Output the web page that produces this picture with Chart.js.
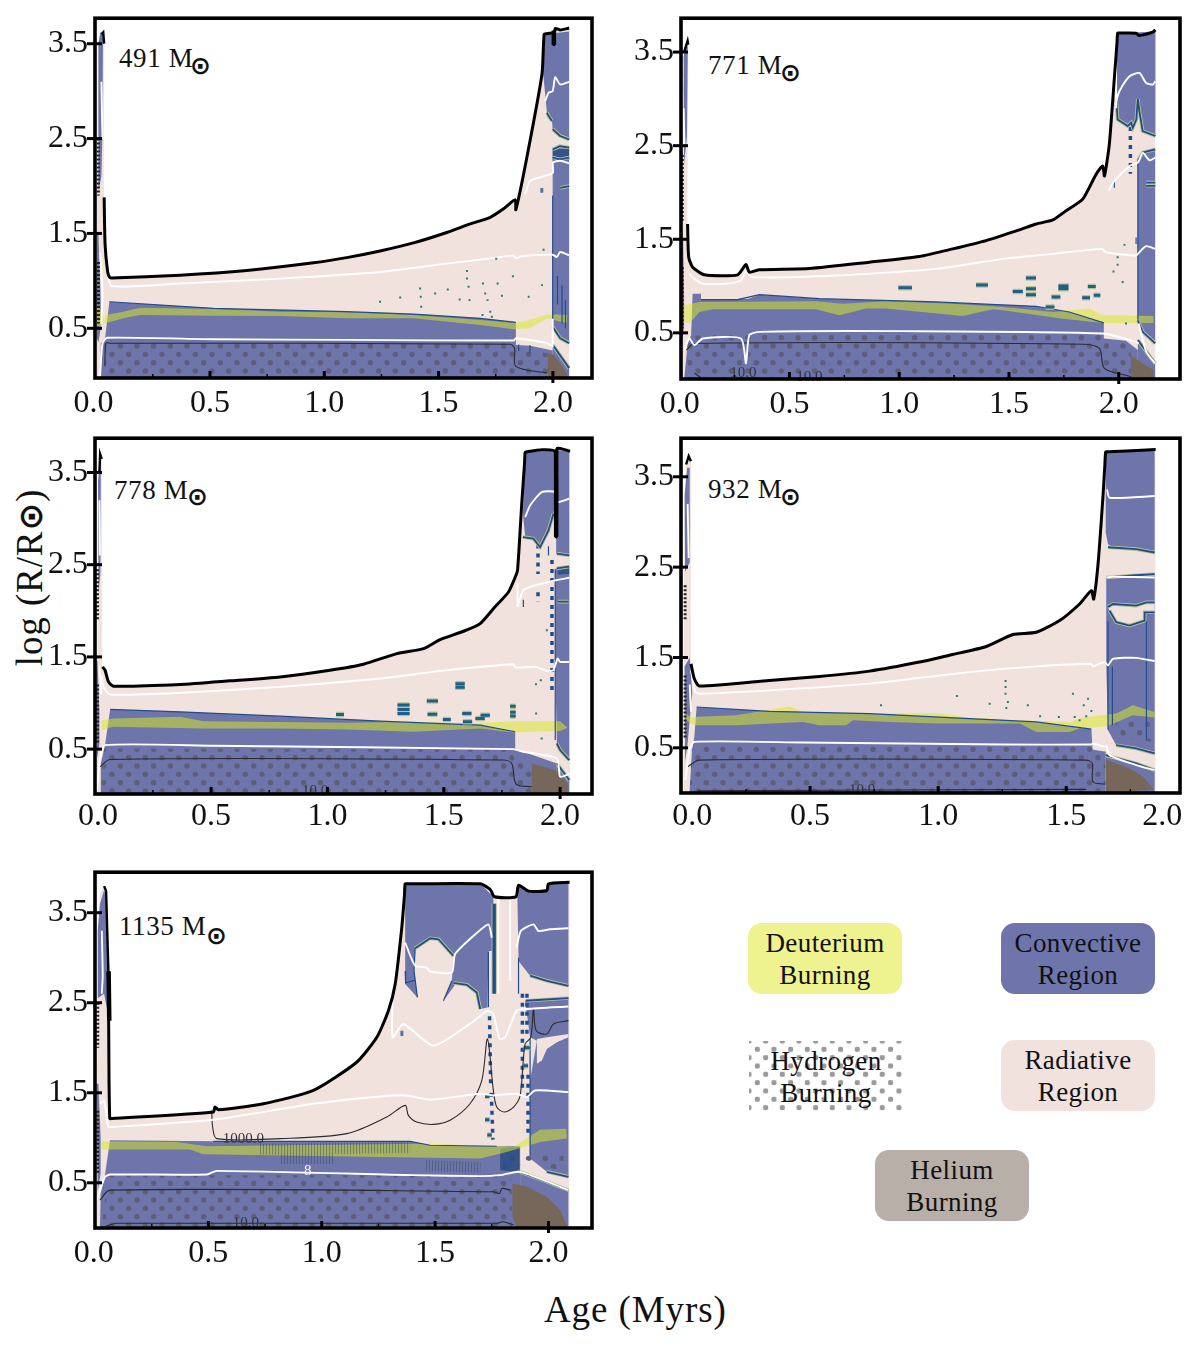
<!DOCTYPE html>
<html lang="en">
<head>
<meta charset="UTF-8">
<title>Stellar structure panels</title>
<script src="https://cdn.jsdelivr.net/npm/chart.js"></script>
<style>
  html, body { margin: 0; padding: 0; background: #fff; }
  body { position: relative; width: 1200px; height: 1347px; overflow: hidden; font-family: "Liberation Serif", serif; color: #111; }
  canvas { position: absolute; }
  .mass { position: absolute; font-size: 27px; letter-spacing: 0.6px; line-height: 30px; white-space: nowrap; }
  .sun { position: absolute; font-family: "DejaVu Sans", sans-serif; font-weight: bold; font-size: 25px; line-height: 25px; }
  .key { position: absolute; width: 154px; height: 71px; border-radius: 14px; text-align: center; font-size: 27px; line-height: 32px; letter-spacing: 0.4px; padding-top: 4px; box-sizing: border-box; }
  .title { position: absolute; font-size: 37px; white-space: nowrap; letter-spacing: 0.9px; }
</style>
</head>
<body>
<div class="mass" style="left:119px;top:43px">491 M</div><div class="sun" style="left:190px;top:53px">&#8857;</div>
<div class="mass" style="left:708px;top:50px">771 M</div><div class="sun" style="left:780px;top:60px">&#8857;</div>
<div class="mass" style="left:114px;top:475px">778 M</div><div class="sun" style="left:187px;top:484px">&#8857;</div>
<div class="mass" style="left:708px;top:474px">932 M</div><div class="sun" style="left:780px;top:484px">&#8857;</div>
<div class="mass" style="left:119px;top:911px">1135 M</div><div class="sun" style="left:206px;top:923px">&#8857;</div>

<div class="key" style="left:748px;top:923px;background:#eef28f">Deuterium<br>Burning</div>
<div class="key" style="left:1001px;top:923px;background:#6d75ab">Convective<br>Region</div>
<div class="key" style="left:749px;top:1041px;border-radius:0;background-image:radial-gradient(circle,#9a9a9a 2.6px,transparent 3px),radial-gradient(circle,#9a9a9a 2.6px,transparent 3px);background-size:16.67px 16.67px;background-position:0 0,8.33px 8.33px">Hydrogen<br>Burning</div>
<div class="key" style="left:1001px;top:1040px;background:#f2e2dd">Radiative<br>Region</div>
<div class="key" style="left:875px;top:1150px;background:#b8afa9">Helium<br>Burning</div>

<div class="title" style="left:544px;top:1288px">Age (Myrs)</div>
<div class="title" style="left:-61px;top:556px;transform:rotate(-90deg);width:180px;text-align:center">log (R/R<span style="font-family:'DejaVu Sans';font-weight:bold;font-size:33px">&#8857;</span>)</div>

<script>
// ---- 491 Msun
const p1Spike = [[.002,-.02],[.005,1.0],[.008,2.6],[.012,3.45],[.025,3.6],[.033,3.62],[.037,3.5]];
const p1Surface = [[.037,1.88],[.041,1.39],[.052,1.1],[.06,1.04],[.07,1.03],[.369,1.06],[.661,1.11],[.953,1.19],[1.098,1.245],[1.244,1.315],[1.39,1.40],[1.536,1.51],[1.638,1.60],[1.726,1.67],[1.784,1.76],[1.835,1.855],[1.838,1.75],[1.886,2.30],[1.952,3.175],[1.959,3.5],[1.962,3.60],[1.97,3.605],[2.003,3.61],[2.004,3.49],[2.01,3.66],[2.032,3.645],[2.071,3.665]];
const p1Conv = [
  [[.019,-.024],[.022,.343],[.041,.395],[.06,.78],[.515,.71],[1.098,.675],[1.39,.65],[1.682,.605],[1.838,.563],[1.838,.325],[1.901,.315],[1.999,.266],[1.999,-.024]],
  [[1.962,3.6],[2.071,3.63],[2.071,2.493],[2.032,2.528],[1.999,2.598],[1.996,2.685],[1.974,2.773],[1.966,2.965],[1.958,3.175]],
  [[1.999,2.388],[2.032,2.423],[2.071,2.406],[2.071,.343],[2.032,.395],[1.999,.517]],
  [[1.999,.325],[2.071,.08],[2.071,-.024],[1.999,-.024]],
  [[.012,3.5],[.02,3.62],[.032,3.6],[.03,2.6],[.025,2.1],[.012,1.95]],
  [[.004,1.5],[.012,1.5],[.022,.8],[.022,.5],[.012,.35],[.004,.4]]
];
const p1Holes = [];
const p1Hburn = [[[.041,-.024],[.036,.371],[1.838,.371],[1.842,.29],[1.978,.238],[1.978,-.024]]];
const p1Heburn = [[1.978,.238],[2.003,.22],[2.047,.08],[2.069,-.024],[1.978,-.01]];
const p1Deut = [
  [[.041,.64],[.121,.675],[.194,.717],[.515,.703],[.807,.675],[1.098,.668],[1.39,.64],[1.682,.587],[1.828,.559],[1.886,.58],[1.974,.647],[2.061,.64],[2.061,.552],[1.974,.605],[1.901,.5],[1.828,.49],[1.682,.535],[1.39,.605],[1.098,.605],[.807,.63],[.515,.633],[.194,.64],[.121,.605],[.041,.552]],
  [[0,.762],[.022,.692],[.041,.57],[.019,.517],[0,.535]]
];
const p1Dark = [[[1.999,2.38],[2.071,2.4],[2.071,2.28],[1.999,2.27]],[[1.945,1.98],[1.958,1.98],[1.958,1.93],[1.945,1.93]]];
const p1White = [
  [[.051,1.077],[.07,.944],[.369,.972],[.807,1.024],[1.244,1.094],[1.536,1.182],[1.755,1.245],[1.828,1.269],[1.838,1.234],[1.857,1.259],[1.999,1.276],[2.017,1.252],[2.032,1.304],[2.071,1.269]],
  [[.019,-.01],[.03,.343],[.05,.4],[.515,.385],[1.098,.378],[1.828,.371],[1.838,.395],[1.974,.343],[1.999,.31]],
  [[1.879,1.916],[1.901,2.056],[1.999,2.136],[2.0,2.248],[2.032,2.266],[2.071,2.238]],
  [[1.966,2.895],[1.981,2.983],[1.999,3.0],[2.01,3.147],[2.032,3.07],[2.071,3.098]],
  [[1.999,.3],[1.999,.6]],
  [[.025,3.1],[.028,2.7],[.03,2.5]],
  [[.02,1.3],[.03,.9],[.025,.55]]
];
const p1Thin = [[[.04,.1],[.045,.343],[.063,.343],[1.813,.332],[1.832,.29],[1.838,.098],[1.974,.028]]];
const p1Edges = [
  [[1.999,2.6],[2.03,2.53],[2.071,2.49]],[[1.999,2.385],[2.03,2.42],[2.071,2.405]],[[1.999,2.3],[2.03,2.28],[2.071,2.3]],
  [[1.974,2.773],[1.981,2.74],[1.996,2.685]],[[1.999,.517],[2.032,.395],[2.071,.343]],[[1.999,.325],[2.071,.08]],
  [[2.032,1.98],[2.071,2.0]]
];
const p1Veins = [[[.06,.78],[.515,.71],[1.098,.675],[1.39,.65],[1.682,.605],[1.838,.563]],[[1.999,1.9],[1.999,.55]],[[2.02,1.05],[2.02,.75]],[[2.04,.95],[2.04,.55]],[[2.055,.8],[2.055,.5]],[[1.85,.33],[1.85,.26]],[[1.9,.32],[1.9,.24]]];
const p1Fuzz = [];
const p1Mottle = [];
const p1Thick = [[[2.004,3.64],[2.004,3.49]]];
const p1Islands = [];
const p1Dots = [[1.244,.78],[1.332,.825],[1.419,.92],[1.422,.832],[1.424,.727],[1.485,.867],[1.54,.909],[1.592,.804],[1.624,1.105],[1.624,1.024],[1.631,.937],[1.635,.797],[1.694,.972],[1.704,.867],[1.714,.797],[1.758,.972],[1.777,.843],[1.726,.675],[1.692,.64],[1.733,.622],[1.752,1.234],[1.825,1.049],[1.952,.955],[1.894,.832],[1.959,1.329]];
const p1Hatch = [[[.012,2.5],[.012,1.9]],[[.012,1.2],[.012,.55]]];
const p1Notes = [];

// ---- 771 Msun
const p2Spike = [[.008,.014],[.014,2.87],[.021,3.507],[.036,3.62],[.039,3.578]];
const p2Surface = [[.036,1.663],[.041,1.309],[.059,1.202],[.112,1.12],[.264,1.12],[.302,1.23],[.317,1.149],[.363,1.174],[.591,1.188],[.864,1.255],[1.092,1.316],[1.244,1.397],[1.396,1.486],[1.547,1.6],[1.623,1.663],[1.70,1.706],[1.76,1.805],[1.836,1.929],[1.897,2.195],[1.927,2.284],[1.935,2.177],[1.957,2.514],[1.98,3.223],[1.992,3.6],[1.995,3.702],[2.003,3.703],[2.079,3.702],[2.091,3.677],[2.155,3.713],[2.167,3.738]];
const p2Conv = [
  [[.021,.014],[.036,.387],[.052,.475],[.059,.918],[.097,.918],[.097,.855],[.264,.855],[.272,.865],[.312,.865],[.363,.908],[.636,.865],[1.168,.83],[1.623,.784],[1.775,.723],[1.932,.606],[1.932,.44],[2.033,.415],[2.087,.316],[2.087,.014]],
  [[1.995,3.702],[2.167,3.72],[2.167,2.603],[2.109,2.656],[2.094,2.869],[2.087,3.0],[2.08,2.78],[2.064,2.691],[2.056,2.745],[2.041,2.709],[1.995,2.78],[1.988,3.011]],
  [[2.087,2.337],[2.109,2.426],[2.166,2.461],[2.166,.387],[2.109,.511],[2.087,.635]],
  [[2.087,.422],[2.166,.174],[2.166,.014],[2.087,.014]],
  [[.018,3.45],[.03,3.6],[.037,3.55],[.033,2.6],[.02,2.3]],
  [[.008,1.6],[.016,1.5],[.02,.9],[.02,.55],[.01,.4]]
];
const p2Holes = [[[2.125,2.106],[2.166,2.106],[2.166,2.071],[2.125,2.071]]];
const p2Hburn = [[[.036,.014],[.036,.387],[.059,.475],[1.932,.5],[1.935,.422],[2.049,.404],[2.056,.245],[2.056,.014]]];
const p2Heburn = [[2.056,.255],[2.109,.174],[2.158,.103],[2.158,.014],[2.056,.014]];
const p2Deut = [[[.021,.794],[.09,.83],[.621,.837],[.743,.812],[.94,.837],[1.244,.812],[1.472,.777],[1.699,.723],[1.866,.759],[1.927,.688],[2.158,.681],[2.158,.606],[1.927,.606],[1.745,.652],[1.472,.741],[1.426,.752],[1.289,.681],[.94,.759],[.849,.759],[.727,.688],[.621,.752],[.15,.752],[.09,.723],[.044,.599],[.021,.617]]];
const p2Dark = [];
const p2White = [
  [[.044,1.131],[.067,1.078],[.105,1.025],[.211,1.025],[.279,1.06],[.302,1.167],[.325,1.096],[.712,1.113],[1.168,1.184],[1.472,1.291],[1.699,1.344],[1.927,1.397],[1.938,1.362],[2.079,1.326],[2.094,1.362],[2.125,1.426],[2.166,1.397]],
  [[.021,.316],[.044,.44],[.067,.369],[.105,.44],[.279,.44],[.302,.174],[.317,.475],[.363,.511],[1.016,.518],[1.927,.493],[2.079,.404],[2.091,.387]],
  [[2.091,.6],[2.125,.3],[2.166,.174]],
  [[1.954,2.018],[1.98,2.124],[2.049,2.284],[2.087,2.319],[2.109,2.426],[2.14,2.344],[2.166,2.372]],
  [[1.988,2.975],[2.003,3.082],[2.049,3.241],[2.094,3.277],[2.125,3.17],[2.155,3.152],[2.166,3.188]],
  [[.018,2.9],[.022,2.5]],
  [[1.988,3.4],[1.988,2.9]]
];
const p2Thin = [[[.03,.316],[.067,.387],[1.836,.379],[1.912,.333],[1.935,.12],[2.056,.032]],[[.067,.07],[.098,.02]]];
const p2Edges = [
  [[1.988,3.011],[1.995,2.78],[2.041,2.709],[2.056,2.745],[2.064,2.691],[2.08,2.78],[2.087,3.0],[2.094,2.869],[2.109,2.656],[2.167,2.603]],
  [[2.087,2.337],[2.109,2.426],[2.166,2.461]],
  [[2.087,.635],[2.109,.511],[2.166,.387]],[[2.087,.422],[2.166,.174]],
  [[2.125,2.106],[2.166,2.106]],[[2.125,2.071],[2.166,2.071]]
];
const p2Veins = [[[.097,.855],[.264,.855],[.363,.908],[.636,.865],[1.168,.83],[1.623,.784],[1.775,.723],[1.932,.606]],[[2.087,2.33],[2.087,.64]],[[1.98,2.13],[1.98,2.05]],[[2.079,1.52],[2.079,1.45]]];
const p2Fuzz = [];
const p2Mottle = [[[2.053,2.7],[2.053,2.2]]];
const p2Thick = [];
const p2Islands = [[.996,1.058,.982],[1.35,1.404,1.011],[1.577,1.623,1.085],[1.577,1.623,.972],[1.577,1.623,.908],[1.517,1.563,.943],[1.725,1.771,1.0],[1.725,1.771,.97],[1.694,1.734,.883],[1.859,1.895,.996],[1.886,1.916,.901],[1.833,1.869,.876],[1.667,1.707,.777]];
const p2Dots = [[1.995,1.309],[2.026,1.44],[1.995,1.227],[1.976,1.156],[2.018,1.043],[2.033,.599]];
const p2Hatch = [[[.012,2.4],[.012,1.7]],[[.012,1.2],[.012,.55]]];
const p2Notes = [[.29,.074,"10.0"],[.591,.032,"10.0"]];

// ---- 778 Msun
const p3Spike = [[.009,.02],[.016,2.87],[.02,3.5],[.023,3.70],[.03,3.648]];
const p3Surface = [[.033,1.392],[.044,1.356],[.059,1.229],[.08,1.182],[.367,1.2],[.582,1.24],[.797,1.283],[1.011,1.356],[1.155,1.421],[1.298,1.536],[1.413,1.59],[1.484,1.688],[1.585,1.778],[1.656,1.861],[1.713,2.023],[1.778,2.204],[1.807,2.366],[1.817,2.439],[1.835,3.161],[1.847,3.6],[1.85,3.72],[1.86,3.725],[1.914,3.745],[1.979,3.727],[1.983,2.8],[1.986,3.756],[2.043,3.731]];
const p3Conv = [
  [[.023,.02],[.026,.345],[.044,.543],[.066,.93],[.367,.904],[.797,.857],[1.226,.803],[1.656,.76],[1.807,.688],[1.807,.496],[1.842,.471],[1.986,.345],[1.986,.02]],
  [[1.85,3.72],[1.983,3.738],[1.983,3.233],[1.971,3.052],[1.95,2.872],[1.914,2.691],[1.885,2.782],[1.85,2.8],[1.84,3.052]],
  [[1.983,3.738],[2.039,3.738],[2.039,2.601],[2.0,2.612],[1.983,2.619]],
  [[1.979,2.457],[2.039,2.475],[2.039,.381],[2.0,.489],[1.986,.561],[1.979,1.428]],
  [[1.986,.345],[2.039,.164],[2.039,.02],[1.986,.02]],
  [[.014,3.4],[.02,3.6],[.026,3.55],[.024,2.4],[.016,2.2]],
  [[.004,1.5],[.012,1.45],[.02,.9],[.02,.55],[.01,.4]]
];
const p3Holes = [];
const p3Hburn = [[[.026,.02],[.04,.507],[1.785,.496],[1.807,.381],[1.878,.345],[1.878,.02]]];
const p3Heburn = [[1.878,.345],[1.986,.265],[2.033,.128],[2.033,.02],[1.878,.02]];
const p3Deut = [[[.03,.814],[.08,.832],[.367,.85],[.467,.803],[1.083,.785],[1.37,.796],[1.585,.778],[1.799,.803],[2.0,.803],[2.032,.731],[2.0,.695],[1.885,.688],[1.799,.681],[1.656,.724],[1.37,.688],[1.083,.713],[.797,.724],[.467,.724],[.08,.742],[.03,.706]]];
const p3Dark = [[[1.99,2.46],[2.039,2.47],[2.039,2.4],[1.99,2.39]]];
const p3White = [
  [[.03,1.3],[.037,1.175],[.066,1.092],[.367,1.11],[.797,1.175],[1.226,1.265],[1.513,1.356],[1.799,1.421],[1.809,1.384],[1.893,1.392],[1.943,1.348],[1.971,1.356],[1.989,1.482],[2.0,1.446],[2.039,1.446]],
  [[.009,.056],[.023,.399],[.044,.543],[.51,.536],[1.799,.5],[1.842,.471],[1.986,.399],[2.0,.2],[2.039,.23]],
  [[1.817,2.042],[1.842,2.222],[1.893,2.276],[1.979,2.33],[2.039,2.359]],
  [[1.85,3.016],[1.871,3.143],[1.921,3.287],[1.979,3.287],[1.986,3.179],[2.039,3.215]],
  [[1.817,2.3],[1.817,2.04]],
  [[.02,3.2],[.022,2.6]],
  [[.02,1.4],[.028,1.1]]
];
const p3Thin = [[[.023,.309],[.066,.388],[1.756,.381],[1.792,.345],[1.811,.121],[1.878,.092]]];
const p3Edges = [
  [[1.84,2.8],[1.885,2.782],[1.914,2.691],[1.95,2.872],[1.971,3.052]],
  [[1.986,2.62],[2.039,2.6]],[[1.986,2.46],[2.039,2.48]],[[1.99,2.1],[2.036,2.1]],
  [[1.986,.561],[2.0,.489],[2.039,.381]],[[1.986,.345],[2.039,.164]]
];
const p3Veins = [[[.066,.93],[.367,.904],[.797,.857],[1.226,.803],[1.656,.76],[1.807,.688]],[[1.979,2.45],[1.979,.6]],[[1.842,2.12],[1.842,2.04]],[[1.95,2.7],[1.95,2.6]]];
const p3Fuzz = [];
const p3Mottle = [[[1.905,2.72],[1.905,2.4]],[[1.905,2.2],[1.905,2.1]],[[1.965,2.55],[1.965,1.1]]];
const p3Thick = [[[1.983,3.74],[1.983,2.8]]];
const p3Islands = [[1.301,1.353,.977],[1.301,1.353,.93],[1.301,1.353,.886],[1.55,1.59,1.21],[1.55,1.59,1.17],[1.427,1.475,1.023],[1.037,1.071,.875],[1.43,1.472,.879],[1.579,1.619,.886],[1.496,1.53,.821],[1.582,1.622,.796],[1.636,1.676,.832],[1.658,1.698,.868],[1.785,1.809,.966],[1.785,1.809,.9],[1.785,1.809,.86]];
const p3Dots = [[1.896,1.204],[1.917,1.247],[1.897,.886],[1.921,.616],[1.943,1.789]];
const p3Hatch = [[[.012,2.45],[.012,1.9]],[[.012,1.2],[.012,.55]]];
const p3Notes = [[.947,.049,"10.0"]];

// ---- 932 Msun
const p4Spike = [[.005,-.004],[.009,2.901],[.016,3.636],[.026,3.728],[.035,3.673]];
const p4Surface = [[.035,1.43],[.048,1.265],[.068,1.184],[.341,1.246],[.536,1.29],[.732,1.349],[.927,1.449],[1.057,1.533],[1.188,1.621],[1.292,1.754],[1.383,1.779],[1.474,1.908],[1.552,2.092],[1.598,2.239],[1.607,2.147],[1.624,2.533],[1.643,3.268],[1.651,3.65],[1.654,3.776],[1.664,3.777],[1.849,3.801]];
const p4Conv = [
  [[.029,-.004],[.039,.474],[.048,.621],[.057,.952],[.341,.904],[.732,.879],[1.122,.824],[1.383,.787],[1.598,.706],[1.602,.529],[1.602,.482],[1.654,.456],[1.654,-.004]],
  [[1.654,3.776],[1.845,3.801],[1.845,2.662],[1.773,2.699],[1.682,2.717],[1.663,2.754],[1.654,2.882]],
  [[1.656,2.386],[1.845,2.423],[1.845,.438],[1.773,.493],[1.695,.529],[1.663,.695],[1.656,1.43]],
  [[1.654,.419],[1.773,.327],[1.845,.254],[1.845,-.004],[1.654,-.004]],
  [[.01,3.3],[.02,3.6],[.03,3.6],[.03,2.55],[.012,2.45]],
  [[.01,1.4],[.03,1.5],[.04,1.1],[.033,.9],[.022,.55],[.012,.35]]
];
const p4Holes = [[[1.663,2.055],[1.682,2.092],[1.773,2.074],[1.813,2.11],[1.845,2.11],[1.845,2.0],[1.806,2.0],[1.806,1.908],[1.747,1.853],[1.695,1.89],[1.669,2.018]]];
const p4Hburn = [
  [[.029,-.004],[.039,.529],[1.598,.529],[1.65,.456],[1.654,-.004]],
  [[1.695,.79],[1.82,.83],[1.845,.56],[1.695,.63]]
];
const p4Heburn = [[1.654,.371],[1.747,.272],[1.8,.18],[1.841,.04],[1.656,-.004]];
const p4Deut = [[[.009,.879],[.035,.842],[.211,.86],[.328,.915],[.419,.96],[.471,.897],[.667,.886],[.797,.879],[.992,.886],[1.122,.835],[1.383,.798],[1.513,.787],[1.565,.835],[1.695,.879],[1.76,.971],[1.845,.897],[1.845,.835],[1.76,.86],[1.669,.75],[1.643,.732],[1.552,.713],[1.513,.676],[1.383,.676],[1.318,.768],[.992,.768],[.81,.787],[.667,.805],[.641,.75],[.536,.75],[.471,.787],[.211,.75],[.048,.75],[.016,.805]]];
const p4Dark = [];
const p4White = [
  [[.035,1.357],[.052,1.118],[.068,1.099],[.341,1.136],[.732,1.21],[1.122,1.338],[1.383,1.401],[1.598,1.43],[1.604,1.401],[1.65,1.449],[1.663,1.412],[1.682,1.485],[1.773,1.496],[1.845,1.46]],
  [[.013,.143],[.029,.474],[.048,.566],[.471,.559],[1.253,.537],[1.598,.537],[1.604,.548],[1.65,.511]],
  [[1.656,.529],[1.669,.419],[1.773,.309],[1.845,.254]],
  [[1.659,3.36],[1.669,3.268],[1.845,3.287]],
  [[1.656,2.386],[1.682,2.393],[1.845,2.386]],
  [[.022,3.2],[.026,2.6]],
  [[.03,1.2],[.035,.9]]
];
const p4Thin = [[[.022,.29],[.068,.364],[1.578,.364],[1.602,.327],[1.604,.125],[1.65,.099]],[[.06,.025],[1.578,.04]]];
const p4Edges = [
  [[1.663,2.72],[1.773,2.699],[1.845,2.662]],[[1.656,2.386],[1.773,2.41],[1.845,2.423]],
  [[1.695,.529],[1.773,.493],[1.845,.438]],[[1.654,.419],[1.773,.327],[1.845,.254]],
  [[1.663,2.06],[1.682,2.092],[1.773,2.074],[1.813,2.11],[1.845,2.11]],
  [[1.669,2.018],[1.695,1.89],[1.747,1.853],[1.806,1.908],[1.806,2.0],[1.845,2.0]]
];
const p4Veins = [[[.057,.952],[.341,.904],[.732,.879],[1.122,.824],[1.383,.787],[1.598,.706]],[[1.663,1.9],[1.663,.7]],[[1.813,1.9],[1.813,.6]],[[1.68,1.4],[1.68,.75]]];
const p4Fuzz = [];
const p4Mottle = [];
const p4Thick = [];
const p4Islands = [];
const p4Dots = [[1.263,1.239],[1.263,1.173],[1.263,1.099],[1.073,1.074],[1.272,1.007],[1.266,.941],[1.201,.989],[.777,.971],[1.35,.971],[1.526,1.099],[1.585,1.044],[1.568,.971],[1.598,.908],[1.398,.849],[1.471,.842],[1.533,.842],[1.578,.849],[1.552,.805]];
const p4Hatch = [[[.012,2.3],[.012,1.9]],[[.012,1.3],[.012,.6]]];
const p4Notes = [[.703,.033,"10.0"]];

// ---- 1135 Msun
const p5Spike = [[.007,.013],[.015,3.334],[.022,3.703],[.04,3.795],[.049,3.74],[.059,2.854]];
const p5Surface = [[.059,2.854],[.062,1.6],[.064,1.3],[.066,1.212],[.075,1.214],[.522,1.286],[.529,1.341],[.544,1.312],[.743,1.378],[.963,1.526],[1.154,1.839],[1.243,2.116],[1.294,2.411],[1.324,2.707],[1.353,3.334],[1.365,3.7],[1.368,3.821],[1.38,3.821],[1.699,3.821],[1.743,3.758],[1.762,3.677],[1.856,3.677],[1.868,3.806],[1.912,3.74],[1.993,3.747],[2.0,3.821],[2.093,3.839]];
const p5Conv = [
  [[.022,.013],[.025,.382],[.044,.585],[.066,.972],[.522,.961],[1.39,.961],[1.478,.917],[1.772,.906],[1.875,.906],[1.875,.013]],
  [[1.368,3.821],[1.699,3.821],[1.757,3.677],[1.757,3.076],[1.735,3.076],[1.731,2.448],[1.699,2.43],[1.684,2.614],[1.64,2.699],[1.588,2.699],[1.537,2.522],[1.574,2.744],[1.581,3.02],[1.515,3.205],[1.478,3.216],[1.412,3.105],[1.407,2.854],[1.422,2.559],[1.368,2.707]],
  [[1.863,3.685],[1.868,3.806],[1.912,3.74],[1.993,3.747],[2.0,3.821],[2.088,3.839],[2.088,2.688],[1.993,2.744],[1.919,2.799],[1.89,2.891],[1.868,2.965]],
  [[1.897,2.522],[2.088,2.552],[2.088,.566],[1.993,.622],[1.919,.769],[1.919,1.637],[1.934,1.858],[1.949,2.079],[1.919,2.116]],
  [[1.875,.622],[1.993,.511],[2.088,.419],[2.088,.013],[1.875,.013]],
  [[.012,3.3],[.022,3.6],[.04,3.75],[.049,3.7],[.059,2.854],[.063,2.3],[.04,2.6],[.012,2.55]],
  [[.006,1.6],[.015,1.6],[.025,1.0],[.025,.6],[.012,.4]]
];
const p5Holes = [[[1.949,2.098],[1.993,2.116],[2.088,2.153],[2.088,2.116],[2.037,2.061],[1.993,1.987],[1.971,1.858],[1.949,1.821]]];
const p5Hburn = [
  [[.029,.013],[.059,.585],[1.772,.585],[1.787,.537],[1.838,.493],[1.838,.013]],
  [[1.801,.806],[2.066,.806],[2.066,.622],[1.904,.751],[1.801,.585]]
];
const p5Heburn = [[1.841,.493],[1.904,.456],[1.993,.345],[2.051,.197],[2.084,.013],[1.86,.013],[1.841,.124]];
const p5Deut = [[[.029,.961],[.36,.954],[.493,.906],[1.434,.935],[1.699,.917],[1.787,.906],[1.846,.899],[1.963,1.09],[2.078,1.101],[2.081,.991],[1.963,.954],[1.816,.843],[1.699,.769],[1.404,.78],[.478,.817],[.419,.869],[.029,.869]]];
const p5Dark = [
  [[1.787,.88],[1.872,.9],[1.872,.65],[1.846,.622],[1.787,.64]],
  [[1.347,2.19],[1.36,2.19],[1.36,2.13],[1.347,2.13]]
];
const p5White = [
  [[.022,1.378],[.04,1.415],[.059,1.12],[.074,1.12],[.522,1.201],[.963,1.378],[1.257,1.459],[1.375,1.47],[1.478,1.423],[1.699,1.489],[1.757,1.47],[1.86,1.489],[1.904,1.452],[1.941,1.526],[2.088,1.507]],
  [[.007,.308],[.044,.566],[.066,.592],[.493,.592],[.537,.633],[1.404,.585],[1.699,.574],[1.787,.585],[1.875,.622],[2.088,.419]],
  [[1.313,2.596],[1.313,2.116],[1.36,2.264],[1.493,2.024],[1.662,2.282],[1.731,2.411],[1.757,2.375],[1.784,2.098],[1.809,2.116],[1.86,2.411],[1.904,2.43],[2.088,2.459]],
  [[1.368,3.168],[1.412,2.91],[1.463,2.891],[1.478,2.847],[1.574,2.836],[1.588,3.039],[1.669,3.242],[1.735,3.371],[1.75,3.223]],
  [[1.86,3.113],[1.878,3.297],[1.934,3.371],[1.956,3.297],[2.007,3.316],[2.088,3.327]],
  [[1.779,3.677],[1.779,2.596]],
  [[1.831,3.677],[1.831,2.744]],
  [[.03,3.3],[.034,2.8],[.03,2.6]]
];
const p5Thin = [
  [[.515,1.304],[.519,1.12],[.537,.991],[.816,.991],[1.11,1.046],[1.287,1.231],[1.368,1.36],[1.382,1.249],[1.419,1.175],[1.493,1.149],[1.566,1.194],[1.654,1.378],[1.706,1.637],[1.731,2.098],[1.757,1.526],[1.772,1.341],[1.804,1.286],[1.846,1.341],[1.875,1.47],[1.897,2.042],[1.922,2.116],[1.934,2.43],[1.946,2.19],[1.993,2.153],[2.022,2.264],[2.088,2.301]],
  [[.022,.308],[.066,.419],[1.757,.4],[1.784,.382],[1.794,.437],[1.831,.419]],
  [[.05,.02],[.095,.05],[1.772,.05],[1.801,.068],[1.846,.031]]
];
const p5Edges = [
  [[1.412,3.105],[1.478,3.216],[1.515,3.205],[1.581,3.02]],
  [[1.581,2.72],[1.64,2.7],[1.684,2.614],[1.699,2.43]],
  [[1.757,3.6],[1.757,2.6]],[[1.764,3.6],[1.764,2.6]],
  [[1.919,2.8],[1.993,2.744],[2.088,2.688]],[[1.9,2.522],[2.088,2.552]],
  [[1.993,.622],[2.088,.566]],[[1.875,.622],[1.993,.511],[2.088,.419]]
];
const p5Veins = [
  [[.522,.961],[1.39,.961],[1.478,.917],[1.772,.906]],
  [[1.412,3.105],[1.407,2.854],[1.422,2.559]],[[1.368,2.85],[1.37,2.72],[1.41,2.75]],[[1.537,2.522],[1.574,2.744]],
  [[1.735,3.07],[1.735,2.45]],[[1.868,3.0],[1.868,2.6]],[[1.919,2.1],[1.919,.8]]
];
const p5Fuzz = [[[.728,.875],[1.39,.89]],[[.82,.77],[1.05,.77]],[[1.46,.69],[1.7,.67]]];
const p5Mottle = [[[1.74,2.35],[1.745,1.6]],[[1.748,1.5],[1.755,.98]],[[1.885,2.6],[1.885,1.5]],[[1.905,2.6],[1.905,2.1]],[[1.91,1.7],[1.91,1.0]]];
const p5Thick = [[[.06,2.85],[.063,2.3]]];
const p5Islands = [[1.72,1.74,1.46],[1.72,1.74,1.2],[1.73,1.75,1.03],[1.89,1.91,1.8],[1.89,1.92,2.0]];
const p5Dots = [];
const p5Hatch = [[[.012,2.5],[.012,2.0]],[[.012,1.3],[.012,.6]]];
const p5Notes = [[.654,.991,"1000.0"],[.665,.05,"10.0"],[.938,.633,"8","#fff"]];

const tickLabels = ["0.0", "0.5", "1.0", "1.5", "2.0"];
const yTicks = [0.5, 1.5, 2.5, 3.5];
const yTickLabels = ["0.5", "1.5", "2.5", "3.5"];
const xMinor = [0.25, 0.75, 1.25, 1.75];

const RAD = "#f2e2dd", CONV = "#6d75ab", HE = "#77675a", DEUT = "rgba(215,232,40,.53)", EDGE = "#214d8c", FRINGE = "#b7c38e";

// dotted fill for the hydrogen burning region
function dotPattern() {
  const c = document.createElement("canvas");
  c.width = c.height = 50;
  const g = c.getContext("2d");
  g.fillStyle = "#5e5d7c";
  for (let i = -1; i < 7; i++) {
    for (let j = -1; j < 4; j++) {
      g.beginPath();
      g.arc(j * 16.667 + (i % 2 ? 8.33 : 0) + 2, i * 8.333 + 4, 2.7, 0, Math.PI * 2);
      g.fill();
    }
  }
  return g.createPattern(c, "repeat");
}
const H_DOTS = dotPattern();

const toXY = pts => pts.map(p => ({ x: p[0], y: p[1] }));
// several pieces in one dataset, broken by empty points
const joined = list => list.flatMap(l => toXY(l).concat({ x: l[l.length - 1][0], y: null }));
const shape = (pts, color) => ({ data: toXY(pts), showLine: true, fill: "shape", backgroundColor: color, borderColor: "transparent", borderWidth: 0, pointRadius: 0 });
const stroke = (list, color, width, dash, tension) => ({ data: joined(list), showLine: true, fill: false, borderColor: color, borderWidth: width, borderDash: dash || [], tension: tension || 0, pointRadius: 0 });

function buildDatasets(p) {
  const body = p.spike.concat(p.surface);
  const isl = p.islands.map(s => [[s[0], s[2]], [s[1], s[2]]]);
  const layers = [
    { data: toXY(body), showLine: true, fill: "start", backgroundColor: RAD, borderWidth: 0, borderColor: "transparent", tension: .2, pointRadius: 0 },
    ...p.conv.map(s => shape(s, CONV)),
    ...p.holes.map(s => shape(s, RAD)),
    ...p.hburn.map(s => shape(s, H_DOTS)),
    shape(p.heburn, HE),
    ...p.dark.map(s => shape(s, "rgba(30,70,125,.72)")),
    ...p.deut.map(s => shape(s, DEUT)),
    stroke(p.fuzz, "rgba(45,80,85,.5)", 11, [1, 2]),
    stroke(p.mottle, EDGE, 3.5, [4, 5]),
    stroke(p.edges, FRINGE, 3.6),
    stroke(p.edges, EDGE, 1.8),
    stroke(p.veins, EDGE, 1.2),
    stroke(isl, FRINGE, 5.5),
    stroke(isl, "#1f5f8c", 3),
    stroke(p.thin, "#2a2a30", 1.1, [], .3),
    stroke(p.white, "#fff", 1.9, [], .2),
    stroke(p.hatch, "#222", 3, [2, 2]),
    { data: toXY(p.dots), showLine: false, pointStyle: "rect", pointRadius: 1.4, pointBackgroundColor: "#2b7a72", pointBorderWidth: 0 },
    stroke([p.surface], "#000", 3, [], .2),
    stroke([p.spike.slice(-3)], "#000", 2.4),
    stroke(p.thick, "#000", 4.5)
  ];
  // first dataset ends up on top in Chart.js
  return layers.reverse();
}

// frame, inward ticks and the small contour labels
const framePlugin = {
  id: "frameTicks",
  afterDatasetsDraw(chart) {
    const ctx = chart.ctx, a = chart.chartArea;
    const xs = chart.scales.x, ys = chart.scales.y;
    const cfg = chart.options.plugins.frameTicks;
    ctx.save();
    ctx.font = "15px 'Liberation Serif'";
    ctx.textAlign = "center";
    ctx.textBaseline = "middle";
    cfg.notes.forEach(n => {
      ctx.fillStyle = n[3] || "#33333c";
      ctx.fillText(n[2], xs.getPixelForValue(n[0]), ys.getPixelForValue(n[1]));
    });
    ctx.strokeStyle = "#000";
    ctx.lineWidth = 3.6;
    ctx.strokeRect(a.left, a.top, a.right - a.left, a.bottom - a.top);
    ctx.lineWidth = 3;
    yTicks.forEach(v => {
      const py = ys.getPixelForValue(v);
      ctx.beginPath(); ctx.moveTo(a.left - 8, py); ctx.lineTo(a.left + 7, py); ctx.stroke();
    });
    cfg.major.forEach(v => {
      const px = xs.getPixelForValue(v);
      if (px > a.right) return;
      ctx.beginPath(); ctx.moveTo(px, a.bottom + (v === 2 ? 5 : 0)); ctx.lineTo(px, a.bottom - 7); ctx.stroke();
    });
    ctx.lineWidth = 1.5;
    xMinor.forEach(v => {
      const px = xs.getPixelForValue(v);
      ctx.beginPath(); ctx.moveTo(px, a.bottom); ctx.lineTo(px, a.bottom - 4); ctx.stroke();
    });
    ctx.restore();
  }
};

const panels = [
  { frame: [95, 17, 592, 378], xr: [-.003, 2.171], yr: [-.024, 3.769], labelAt: [-.01, .5, 1, 1.5, 2], labelGap: 6,
    spike: p1Spike, surface: p1Surface, conv: p1Conv, holes: p1Holes, hburn: p1Hburn, heburn: p1Heburn, deut: p1Deut, dark: p1Dark, white: p1White, thin: p1Thin, edges: p1Edges, veins: p1Veins, fuzz: p1Fuzz, mottle: p1Mottle, thick: p1Thick, islands: p1Islands, dots: p1Dots, hatch: p1Hatch, notes: p1Notes },
  { frame: [681, 17, 1180, 379], xr: [.006, 2.279], yr: [.007, 3.862], labelAt: [0, .5, 1, 1.5, 2], labelGap: 6,
    spike: p2Spike, surface: p2Surface, conv: p2Conv, holes: p2Holes, hburn: p2Hburn, heburn: p2Heburn, deut: p2Deut, dark: p2Dark, white: p2White, thin: p2Thin, edges: p2Edges, veins: p2Veins, fuzz: p2Fuzz, mottle: p2Mottle, thick: p2Thick, islands: p2Islands, dots: p2Dots, hatch: p2Hatch, notes: p2Notes },
  { frame: [95, 437, 592, 794], xr: [.001, 2.137], yr: [.013, 3.872], labelAt: [.014, .5, 1, 1.5, 2], labelGap: 3,
    spike: p3Spike, surface: p3Surface, conv: p3Conv, holes: p3Holes, hburn: p3Hburn, heburn: p3Heburn, deut: p3Deut, dark: p3Dark, white: p3White, thin: p3Thin, edges: p3Edges, veins: p3Veins, fuzz: p3Fuzz, mottle: p3Mottle, thick: p3Thick, islands: p3Islands, dots: p3Dots, hatch: p3Hatch, notes: p3Notes },
  { frame: [681, 437, 1180, 793], xr: [-.004, 1.944], yr: [0, 3.927], labelAt: [.04, .5, 1, 1.5, 1.875], labelGap: 4,
    spike: p4Spike, surface: p4Surface, conv: p4Conv, holes: p4Holes, hburn: p4Hburn, heburn: p4Heburn, deut: p4Deut, dark: p4Dark, white: p4White, thin: p4Thin, edges: p4Edges, veins: p4Veins, fuzz: p4Fuzz, mottle: p4Mottle, thick: p4Thick, islands: p4Islands, dots: p4Dots, hatch: p4Hatch, notes: p4Notes },
  { frame: [95, 871, 592, 1228], xr: [0, 2.192], yr: [-.002, 3.95], labelAt: [-.005, .5, 1, 1.5, 2], labelGap: 6,
    spike: p5Spike, surface: p5Surface, conv: p5Conv, holes: p5Holes, hburn: p5Hburn, heburn: p5Heburn, deut: p5Deut, dark: p5Dark, white: p5White, thin: p5Thin, edges: p5Edges, veins: p5Veins, fuzz: p5Fuzz, mottle: p5Mottle, thick: p5Thick, islands: p5Islands, dots: p5Dots, hatch: p5Hatch, notes: p5Notes }
];

const PAD_L = 60, PAD_T = 25, PAD_R = 30, PAD_B = 46;

panels.forEach(p => {
  const [l, t, r, b] = p.frame;
  const cv = document.createElement("canvas");
  cv.width = r - l + PAD_L + PAD_R;
  cv.height = b - t + PAD_T + PAD_B;
  cv.style.left = (l - PAD_L) + "px";
  cv.style.top = (t - PAD_T) + "px";
  document.body.appendChild(cv);

  new Chart(cv, {
    type: "scatter",
    data: { datasets: buildDatasets(p) },
    plugins: [framePlugin],
    options: {
      responsive: false,
      animation: false,
      devicePixelRatio: 1,
      layout: { padding: { top: PAD_T, right: PAD_R, left: 0, bottom: 0 } },
      elements: { line: { tension: 0 } },
      plugins: {
        legend: { display: false },
        tooltip: { enabled: false },
        frameTicks: { notes: p.notes, major: [.5, 1, 1.5, 2] }
      },
      scales: {
        x: {
          type: "linear", min: p.xr[0], max: p.xr[1],
          grid: { display: false, drawTicks: false, tickLength: 0 }, border: { display: false },
          afterBuildTicks: s => { s.ticks = p.labelAt.map(v => ({ value: v })); },
          afterFit: s => { s.height = PAD_B; },
          ticks: { autoSkip: false, maxRotation: 0, padding: p.labelGap, color: "#111", font: { family: "Liberation Serif", size: 32 }, callback: (v, i) => tickLabels[i] }
        },
        y: {
          type: "linear", min: p.yr[0], max: p.yr[1],
          grid: { display: false, drawTicks: false, tickLength: 0 }, border: { display: false },
          afterBuildTicks: s => { s.ticks = yTicks.map(v => ({ value: v })); },
          afterFit: s => { s.width = PAD_L; },
          ticks: { autoSkip: false, padding: 7, color: "#111", font: { family: "Liberation Serif", size: 32 }, callback: (v, i) => yTickLabels[i] }
        }
      }
    }
  });
});
</script>
</body>
</html>
